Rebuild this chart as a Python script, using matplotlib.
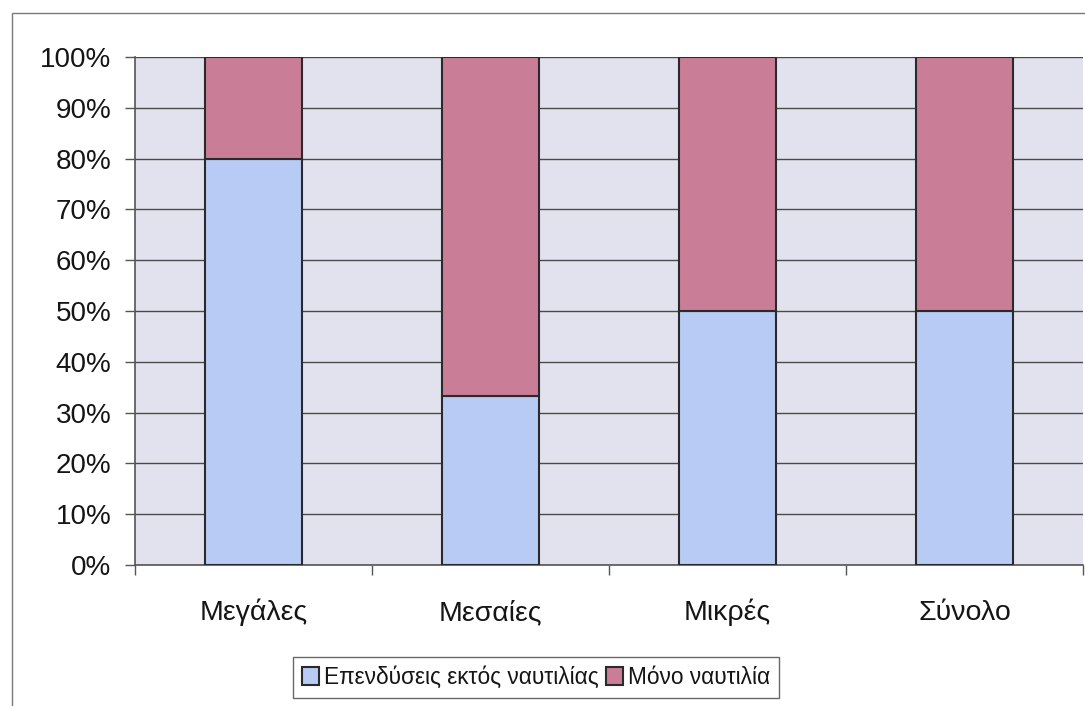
import matplotlib
matplotlib.use("Agg")
import matplotlib.pyplot as plt
from matplotlib.patches import Rectangle
from matplotlib.ticker import FuncFormatter, MultipleLocator

plt.rcParams['font.family'] = ['Liberation Sans', 'DejaVu Sans']

categories = ["Μεγάλες", "Μεσαίες", "Μικρές", "Σύνολο"]
outside_shipping = [80.0, 33.3, 50.0, 50.0]
shipping_only = [20.0, 66.7, 50.0, 50.0]
series_labels = ["Επενδύσεις εκτός ναυτιλίας", "Μόνο ναυτιλία"]

W, H = 1085, 706
fig = plt.figure(figsize=(W / 100, H / 100), dpi=100)

# outer chart frame
fig.patches.append(Rectangle((12 / W, -0.05), 1.1, (H - 13) / H + 0.05,
                             transform=fig.transFigure, fill=False,
                             edgecolor="#7a7a7a", linewidth=1.0))

ax = fig.add_axes([135 / W, (H - 565) / H, (1083 - 135) / W, (565 - 57) / H])
ax.set_facecolor("#e2e2ee")

x = range(len(categories))
width = 0.41
ax.bar(x, outside_shipping, width, color="#b8cbf4", edgecolor="#2a2a2a",
       linewidth=1.5, label=series_labels[0], zorder=3)
ax.bar(x, shipping_only, width, bottom=outside_shipping, color="#c97d96",
       edgecolor="#2a2a2a", linewidth=1.5, label=series_labels[1], zorder=3)

ax.set_xlim(-0.5, len(categories) - 0.5)
ax.set_ylim(0, 100)
ax.yaxis.set_major_locator(MultipleLocator(10))
ax.yaxis.set_major_formatter(FuncFormatter(lambda v, _: f"{v:.0f}%"))
ax.yaxis.grid(True, color="#4a4a4a", linewidth=1.0, zorder=1)

ax.set_xticks(list(x))
ax.set_xticklabels(categories, fontsize=20.5, color="#151515")
for lbl in ax.get_xticklabels():
    lbl.set_verticalalignment("baseline")
ax.set_xticks([i + 0.5 for i in range(-1, len(categories))], minor=True)
ax.tick_params(axis="x", which="major", length=0, pad=39.5)
ax.tick_params(axis="x", which="minor", length=7, width=1.0, color="#555555")
ax.tick_params(axis="y", length=7, width=1.0, color="#555555",
               labelsize=20, labelcolor="#151515", pad=10)

for side in ["top", "right"]:
    ax.spines[side].set_visible(False)
ax.spines["left"].set_color("#555555")
ax.spines["bottom"].set_color("#555555")
ax.spines["left"].set_linewidth(1.2)
ax.spines["bottom"].set_linewidth(1.2)

leg = fig.legend(loc="upper left", bbox_to_anchor=(293 / W, (H - 657) / H),
                 ncol=2, fontsize=16.3, frameon=True, fancybox=False,
                 edgecolor="#444444", handlelength=0.75, handleheight=0.85,
                 handletextpad=0.2, columnspacing=0.35, borderpad=0.4,
                 borderaxespad=0)
leg.get_frame().set_linewidth(1.0)
for t in leg.get_texts():
    t.set_color("#151515")

fig.savefig("out.png", dpi=100, facecolor="white")
